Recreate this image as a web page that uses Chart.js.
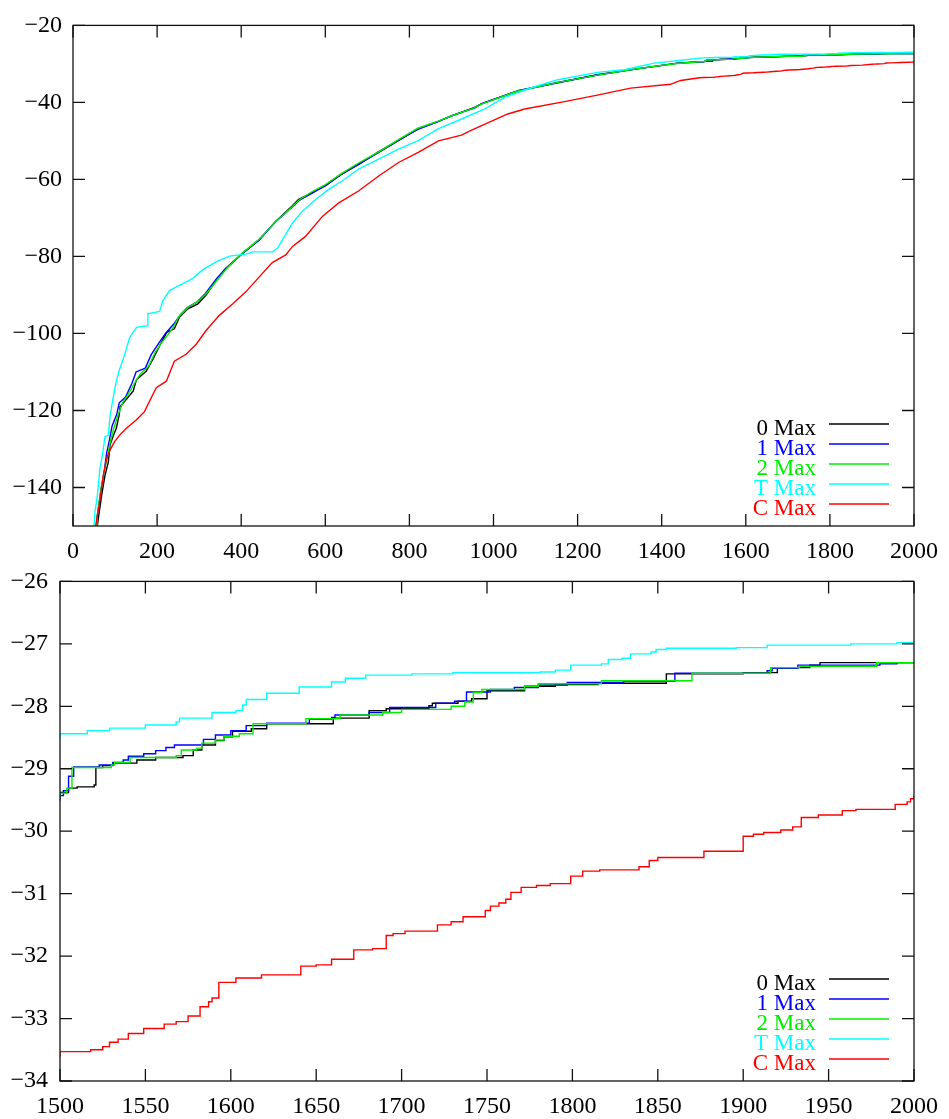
<!DOCTYPE html>
<html>
<head>
<meta charset="utf-8">
<script src="https://cdn.jsdelivr.net/npm/chart.js@4.4.1/dist/chart.umd.min.js"></script>
<style>
    html, body { margin: 0; padding: 0; background: #fff; }
    body { width: 949px; height: 1119px; position: relative; overflow: hidden; }
    .panel { position: absolute; left: 0; width: 949px; }
    #panel-top { top: 0; height: 566px; }
    #panel-zoom { top: 555px; height: 564px; }
</style>
</head>
<body>
<div class="panel" id="panel-top"><canvas id="topChart" width="949" height="566"></canvas></div>
<div class="panel" id="panel-zoom"><canvas id="zoomChart" width="949" height="564"></canvas></div>
<script>
// --- 1. DATA: [iterasi, nilai] per seri ---
const keyLabels = ['0 Max', '1 Max', '2 Max', 'T Max', 'C Max'];
const lineColors = ['#000000', '#0000ff', '#00ee00', '#00ffff', '#ff0000'];

const max0 = [
    [56,-152],[58,-149.8],[68,-142.1],[76,-136.9],[84,-133.4],[88,-129],[95,-126.8],[103,-124.6],[110,-121.1],[112,-119],
    [123,-117.6],[143,-115],[151,-112],[174,-109.8],[192,-106.3],[206,-103.2],[223,-99.7],[241,-98.8],[253,-95.8],[273,-93.6],
    [297,-92.3],[316,-90.1],[336,-87],[364,-83.1],[403,-79.2],[443,-75.7],[482,-70.9],[521,-66.9],[536,-65.2],[569,-63.4],
    [600,-61.7],[640,-58.6],[679,-56],[727,-53],[774,-49.9],[821,-46.8],[869,-44.9],[900,-43.5],[955,-41.3],[971,-40.4],
    [1058,-37],[1153,-34.9],[1247,-32.8],[1342,-31.3],[1437,-29.8],[1490,-29.45],
    [1500,-29.38],[1505,-29.31],[1510,-29.29],[1520,-29.26],[1521,-28.98],[1525,-28.95],[1531,-28.91],[1545,-28.86],[1556,-28.82],
    [1572,-28.79],[1578,-28.70],[1583,-28.62],[1591,-28.55],[1596,-28.49],[1601,-28.40],[1612,-28.36],[1621,-28.28],[1660,-28.19],
    [1681,-28.07],[1691,-28.04],[1716,-27.99],[1718,-27.95],[1733,-27.92],[1741,-27.88],[1750,-27.75],[1772,-27.68],[1790,-27.65],
    [1815,-27.63],[1855,-27.48],[1900,-27.46],[1920,-27.38],[1939,-27.34],[1945,-27.30],[2000,-27.30]
];
const max1 = [
    [55,-152],[57,-148],[66,-141],[74,-136],[80,-131],[86,-128],[93,-124],[104,-121],[110,-118],[125,-116.5],
    [140,-113],[150,-110],[172,-109],[186,-105.5],[204,-102.5],[220,-100],[240,-97.5],[255,-95.2],[272,-93.3],[295,-91.8],
    [315,-89.6],[338,-86.2],[362,-83.2],[400,-79.5],[440,-75.9],[480,-71.2],[520,-67.3],[540,-65.3],[570,-63.5],[602,-61.4],
    [641,-58.4],[680,-56.1],[725,-52.9],[776,-49.7],[822,-46.9],[868,-45.0],[902,-43.4],[956,-41.4],[972,-40.3],[1060,-36.9],
    [1150,-34.9],[1250,-32.8],[1340,-31.3],[1440,-29.8],[1490,-29.5],
    [1500,-29.43],[1502,-29.35],[1505,-29.12],[1508,-28.97],[1523,-28.94],[1531,-28.90],[1537,-28.86],[1540,-28.80],[1549,-28.76],
    [1556,-28.71],[1562,-28.66],[1567,-28.62],[1584,-28.53],[1591,-28.46],[1600,-28.39],[1609,-28.31],[1621,-28.27],[1646,-28.21],
    [1659,-28.18],[1661,-28.14],[1681,-28.10],[1693,-28.02],[1720,-27.95],[1731,-27.92],[1738,-27.77],[1752,-27.73],[1766,-27.70],
    [1780,-27.66],[1797,-27.62],[1830,-27.60],[1860,-27.47],[1914,-27.43],[1917,-27.39],[1932,-27.34],[1980,-27.32],[1990,-27.30],
    [2000,-27.30]
];
const max2 = [
    [55,-152],[58,-147],[67,-140],[75,-135.5],[82,-132],[88,-128.5],[96,-125],[106,-121.5],[118,-118],[130,-116],
    [146,-113],[160,-110.5],[180,-108.5],[195,-105],[210,-102.5],[226,-100.3],[238,-98.5],[252,-95.6],[276,-93],[300,-91.5],
    [320,-89.3],[340,-86.5],[368,-82.8],[404,-79],[444,-75.4],[484,-70.8],[520,-67.2],[537,-65.4],[568,-63.2],[598,-61.5],
    [638,-58.5],[678,-55.8],[728,-52.8],[772,-49.8],[820,-46.7],[870,-44.8],[898,-43.6],[954,-41.4],[970,-40.5],[1056,-37.1],
    [1154,-34.8],[1248,-32.9],[1344,-31.2],[1436,-29.9],[1490,-29.45],
    [1500,-29.39],[1504,-29.31],[1507,-28.98],[1530,-28.94],[1532,-28.90],[1541,-28.82],[1568,-28.79],[1571,-28.70],[1580,-28.67],
    [1583,-28.59],[1591,-28.54],[1596,-28.48],[1605,-28.44],[1613,-28.28],[1644,-28.20],[1664,-28.14],[1689,-28.10],[1700,-28.05],
    [1729,-28.00],[1737,-27.93],[1742,-27.78],[1747,-27.73],[1772,-27.68],[1780,-27.64],[1817,-27.59],[1870,-27.47],[1916,-27.38],
    [1933,-27.36],[1978,-27.30],[2000,-27.30]
];
const maxT = [
    [49,-152],[52,-146.5],[58,-142.1],[64,-135.1],[70,-131.6],[76,-126.8],[84,-126.4],[88,-121.6],[94,-117.6],[103,-112.4],
    [111,-109.3],[123,-105.4],[135,-101],[151,-98.4],[176,-98],[178,-94.9],[206,-94.3],[214,-91.4],[230,-88.8],[253,-87.5],
    [285,-85.7],[308,-83.5],[340,-81.4],[372,-79.9],[411,-79.4],[427,-78.8],[474,-78.8],[486,-77.9],[498,-75.7],[522,-71.3],
    [545,-68.3],[577,-65.2],[608,-62.6],[640,-60.4],[679,-57.3],[727,-54.7],[774,-52.1],[821,-49.9],[869,-46.8],[916,-44.7],
    [979,-41.7],[1027,-38.7],[1090,-36.2],[1153,-34.1],[1247,-32.2],[1311,-31.5],[1382,-29.8],[1453,-29.0],[1490,-28.5],
    [1500,-28.44],[1516,-28.39],[1529,-28.35],[1550,-28.30],[1568,-28.25],[1570,-28.19],[1589,-28.10],[1603,-28.07],[1607,-27.98],
    [1609,-27.89],[1621,-27.79],[1640,-27.69],[1659,-27.61],[1667,-27.55],[1679,-27.50],[1706,-27.48],[1730,-27.46],[1781,-27.45],
    [1790,-27.42],[1799,-27.34],[1817,-27.32],[1821,-27.25],[1829,-27.23],[1834,-27.16],[1846,-27.13],[1849,-27.09],[1855,-27.07],
    [1896,-27.06],[1914,-27.02],[1963,-27.00],[1990,-26.98],[2000,-26.98]
];
const maxC = [
    [53,-152],[54,-149.8],[62,-144.7],[72,-136.9],[80,-132.5],[88,-130.3],[99,-128.1],[111,-126.4],[127,-124.6],[151,-122.4],
    [170,-120.3],[182,-117.6],[198,-114.1],[222,-112.4],[241,-107.2],[269,-105.4],[293,-102.8],[316,-99.3],[348,-95.3],[380,-92.3],
    [411,-89.2],[443,-85.3],[474,-81.6],[506,-79.6],[522,-77.4],[553,-74.8],[593,-69.6],[632,-66.1],[679,-63],[727,-59.1],
    [774,-55.6],[821,-53],[869,-50],[924,-48.5],[948,-47.2],[1034,-43],[1074,-41.7],[1169,-39.8],[1247,-38.1],[1326,-36.3],
    [1421,-35.3],[1445,-34.3],[1490,-33.6],
    [1500,-33.53],[1518,-33.50],[1525,-33.45],[1529,-33.38],[1534,-33.33],[1540,-33.24],[1549,-33.16],[1561,-33.09],[1568,-33.05],
    [1575,-32.96],[1582,-32.81],[1587,-32.73],[1589,-32.67],[1593,-32.42],[1603,-32.35],[1618,-32.30],[1641,-32.16],[1650,-32.14],
    [1659,-32.05],[1672,-31.90],[1683,-31.88],[1691,-31.67],[1695,-31.64],[1702,-31.60],[1721,-31.50],[1729,-31.45],[1736,-31.37],
    [1749,-31.27],[1752,-31.20],[1757,-31.15],[1761,-31.09],[1764,-30.98],[1770,-30.90],[1779,-30.87],[1787,-30.84],[1799,-30.72],
    [1806,-30.64],[1816,-30.62],[1839,-30.57],[1845,-30.47],[1850,-30.42],[1877,-30.32],[1900,-30.08],[1906,-30.05],[1912,-30.02],
    [1922,-29.98],[1929,-29.93],[1934,-29.78],[1944,-29.74],[1958,-29.67],[1966,-29.65],[1989,-29.57],[1996,-29.53],[1998,-29.48],
    [2000,-29.43]
];
const allSeries = [max0, max1, max2, maxT, maxC];

// tick labels
const topXTicks = [0, 200, 400, 600, 800, 1000, 1200, 1400, 1600, 1800, 2000];
const topYTicks = [-140, -120, -100, -80, -60, -40, -20];
const zoomXTicks = [1500, 1550, 1600, 1650, 1700, 1750, 1800, 1850, 1900, 1950, 2000];
const zoomYTicks = [-34, -33, -32, -31, -30, -29, -28, -27, -26];

const FAMILY = '"Liberation Serif", "Times New Roman", serif';
const TICK_FONT = { family: FAMILY, size: 24 };
const KEY_FONT = '23px ' + FAMILY;

// frame + inward tick marks on all four sides (gnuplot style)
const framePlugin = {
    id: 'frame',
    afterDraw(chart) {
        const { ctx, chartArea: a, scales } = chart;
        const len = 12;
        ctx.save();
        ctx.strokeStyle = '#111';
        ctx.lineWidth = 1.3;
        ctx.strokeRect(a.left, a.top, a.right - a.left, a.bottom - a.top);
        ctx.beginPath();
        scales.x.ticks.forEach(t => {
            const px = scales.x.getPixelForValue(t.value);
            ctx.moveTo(px, a.bottom); ctx.lineTo(px, a.bottom - len);
            ctx.moveTo(px, a.top); ctx.lineTo(px, a.top + len);
        });
        scales.y.ticks.forEach(t => {
            const py = scales.y.getPixelForValue(t.value);
            ctx.moveTo(a.left, py); ctx.lineTo(a.left + len, py);
            ctx.moveTo(a.right, py); ctx.lineTo(a.right - len, py);
        });
        ctx.stroke();
        ctx.restore();
    }
};

// key in the lower right corner: text right-aligned, line sample after it
const keyPlugin = {
    id: 'key',
    afterDatasetsDraw(chart) {
        const { ctx, chartArea: a } = chart;
        const sets = chart.data.datasets;
        ctx.save();
        ctx.font = KEY_FONT;
        ctx.textAlign = 'right';
        ctx.textBaseline = 'alphabetic';
        sets.forEach((ds, i) => {
            const y = a.bottom - 22 - (sets.length - 1 - i) * 20;
            ctx.fillStyle = ds.borderColor;
            ctx.fillText(ds.label, a.right - 98, y + 10.5);
            ctx.strokeStyle = ds.borderColor;
            ctx.lineWidth = 1.4;
            ctx.beginPath();
            ctx.moveTo(a.right - 85, y);
            ctx.lineTo(a.right - 25, y);
            ctx.stroke();
        });
        ctx.restore();
    }
};

function renderChart(id, cfg) {
    return new Chart(document.getElementById(id), {
        type: 'line',
        data: {
            datasets: allSeries.map((pts, i) => ({
                label: keyLabels[i],
                data: pts,
                borderColor: lineColors[i],
                borderWidth: 1.4,
                pointRadius: 0,
                fill: false,
                tension: 0,
                stepped: cfg.stepped,
                order: allSeries.length - i
            }))
        },
        options: {
            responsive: false,
            animation: false,
            devicePixelRatio: 1,
            layout: { padding: { left: 0, right: cfg.padRight, top: 14, bottom: 0 } },
            plugins: { legend: { display: false }, tooltip: { enabled: false } },
            scales: {
                x: {
                    type: 'linear', min: cfg.xMin, max: cfg.xMax,
                    grid: { display: false, drawTicks: false },
                    border: { display: false },
                    ticks: { font: TICK_FONT, color: '#000', padding: 11, maxRotation: 0, autoSkip: false, callback: v => String(v) },
                    afterBuildTicks: s => { s.ticks = cfg.xTicks.map(v => ({ value: v })); },
                    afterFit: s => { s.height = cfg.xAxisH; }
                },
                y: {
                    type: 'linear', min: cfg.yMin, max: cfg.yMax,
                    grid: { display: false, drawTicks: false },
                    border: { display: false },
                    ticks: { font: TICK_FONT, color: '#000', padding: cfg.yPad, autoSkip: false, callback: v => String(v).replace('-', '\u2212') },
                    afterBuildTicks: s => { s.ticks = cfg.yTicks.map(v => ({ value: v })); },
                    afterFit: s => { s.width = cfg.yAxisW; }
                }
            }
        },
        plugins: [framePlugin, keyPlugin]
    });
}

renderChart('topChart', {
    stepped: false, xMin: 0, xMax: 2000, yMin: -150, yMax: -20,
    xTicks: topXTicks, yTicks: topYTicks,
    padRight: 31, xAxisH: 40, yAxisW: 73, yPad: 11
});

renderChart('zoomChart', {
    stepped: true, xMin: 1500, xMax: 2000, yMin: -34, yMax: -26,
    xTicks: zoomXTicks, yTicks: zoomYTicks,
    padRight: 32, xAxisH: 38, yAxisW: 60, yPad: 12
});
</script>
</body>
</html>
